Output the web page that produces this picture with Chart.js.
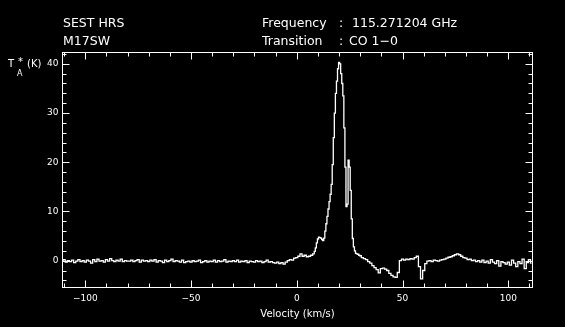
<!DOCTYPE html>
<html>
<head>
<meta charset="utf-8">
<script src="https://cdn.jsdelivr.net/npm/chart.js@4/dist/chart.umd.min.js"></script>
<style>
  html, body { margin: 0; padding: 0; background: #000; }
  #wrap { width: 565px; height: 327px; }
</style>
</head>
<body>
<div id="wrap"><canvas id="spec" width="565" height="327"></canvas></div>
<script>
// header texts
var telescope = 'SEST HRS';
var source = 'M17SW';
var freqLabel = 'Frequency';
var freqValue = '115.271204 GHz';
var transLabel = 'Transition';
var transValue = 'CO 1\u22120';
var xTitle = 'Velocity (km/s)';

// axis ticks
var xTickLabels = [-100, -50, 0, 50, 100];
var xMinorTicks = [-110, -100, -90, -80, -70, -60, -50, -40, -30, -20, -10, 0, 10, 20, 30, 40, 50, 60, 70, 80, 90, 100, 110];
var yTickLabels = [0, 10, 20, 30, 40];
var yMinorTicks = [-4, -2, 0, 2, 4, 6, 8, 10, 12, 14, 16, 18, 20, 22, 24, 26, 28, 30, 32, 34, 36, 38, 40, 42];

// channel velocities (km/s), finer sampling across the line
var velocity = [
  -111, -110, -109, -108, -107, -106, -105, -104, -103, -102, -101,
  -100, -99, -98, -97, -96, -95, -94, -93, -92, -91,
  -90, -89, -88, -87, -86, -85, -84, -83, -82, -81,
  -80, -79, -78, -77, -76, -75, -74, -73, -72, -71,
  -70, -69, -68, -67, -66, -65, -64, -63, -62, -61,
  -60, -59, -58, -57, -56, -55, -54, -53, -52, -51,
  -50, -49, -48, -47, -46, -45, -44, -43, -42, -41,
  -40, -39, -38, -37, -36, -35, -34, -33, -32, -31,
  -30, -29, -28, -27, -26, -25, -24, -23, -22, -21,
  -20, -19, -18, -17, -16, -15, -14, -13, -12, -11,
  -10, -9, -8, -7, -6, -5, -4, -3, -2, -1,
  0, 1, 2, 3, 4, 5, 6, 7,
  8, 8.5, 9, 9.5, 10, 10.5, 11, 11.5, 12, 12.5,
  13, 13.5, 14, 14.5, 15, 15.5, 16, 16.5, 17, 17.5,
  18, 18.5, 19, 19.5, 20, 20.5, 21, 21.5, 22, 22.5,
  23, 23.5, 24, 24.5, 25, 25.5, 26, 26.5, 27, 27.5,
  28, 28.5, 29, 29.5,
  30, 31, 32, 33, 34, 35, 36, 37, 38, 39,
  40, 41, 42, 43, 44, 45, 46, 47, 48, 49,
  50, 51, 52, 53, 54, 55, 56, 57, 58, 59,
  60, 61, 62, 63, 64, 65, 66, 67, 68, 69,
  70, 71, 72, 73, 74, 75, 76, 77, 78, 79,
  80, 81, 82, 83, 84, 85, 86, 87, 88, 89,
  90, 91, 92, 93, 94, 95, 96, 97, 98, 99,
  100, 101, 102, 103, 104, 105, 106, 107, 108, 109,
  110, 111
];

// antenna temperature T*A (K)
var tempK = [
  -0.1, 0.2, -0.3, 0.0, -0.2, 0.1, -0.4, -0.1, 0.2, -0.2, 0.0,
  -0.3, 0.1, -0.1, -0.5, 0.2, -0.2, 0.3, -0.1, 0.0, -0.3,
  0.2, -0.1, 0.4, 0.0, -0.2, 0.1, -0.1, 0.3, -0.2, 0.0,
  -0.1, -0.1, 0.1, -0.2, 0.0, 0.2, -0.3, 0.1, -0.1, 0.0,
  -0.2, 0.1, -0.1, 0.2, -0.3, 0.0, -0.1, -0.4, 0.1, -0.2,
  0.0, 0.3, -0.2, 0.0, -0.1, -0.3, 0.1, -0.4, -0.2, -0.1,
  -0.3, 0.0, -0.2, -0.1, 0.1, -0.4, -0.2, 0.0, -0.3, -0.1,
  -0.2, 0.1, -0.3, 0.0, -0.2, -0.1, 0.2, -0.3, -0.1, -0.2,
  0.0, -0.2, 0.1, -0.3, -0.1, -0.2, 0.0, -0.4, -0.1, -0.2,
  -0.3, 0.0, -0.2, -0.1, -0.4, -0.2, 0.1, -0.3, -0.2, -0.4,
  -0.5, -0.3, -0.6, -0.4, -0.7, -0.3, 0.0, 0.2, 0.1, 0.5,
  0.6, 0.9, 1.4, 0.9, 1.1, 0.8, 0.9, 1.1,
  1.4, 1.9, 2.6, 3.6, 4.4, 4.8, 4.7, 4.6, 4.3, 4.1,
  4.6, 6.0, 7.5, 9.0, 10.5, 12.0, 13.5, 15.5, 19.5, 25.0,
  30.0, 34.0, 36.5, 39.0, 40.3, 40.0, 38.0, 36.0, 33.5, 27.0,
  19.0, 11.0, 11.5, 20.4, 19.0, 14.3, 8.5, 4.5, 2.8, 2.0,
  1.5, 1.4, 1.3, 1.1,
  1.0, 0.6, 0.4, 0.2, -0.2, -0.5, -1.0, -1.4, -1.8, -2.5,
  -1.6, -1.5, -1.7, -2.0, -2.6, -3.0, -3.3, -3.4, -2.4, 0.0,
  0.3, 0.1, 0.3, 0.2, 0.4, 0.3, 0.6, 0.9, -1.2, -3.7,
  -2.0, -0.6, -0.1, 0.0, -0.2, 0.1, 0.0, -0.1, 0.1, 0.2,
  0.3, 0.5, 0.7, 0.8, 1.0, 1.2, 1.4, 1.2, 0.9, 0.6,
  0.5, 0.2, 0.3, 0.0, 0.1, -0.2, 0.0, -0.3, 0.1, -0.4,
  -0.1, -0.5, 0.2, -0.3, -0.6, 0.0, -1.1, -0.2, -0.4, -0.7,
  -0.3, -0.9, 0.1, -0.5, -1.2, -0.2, -0.6, 0.3, -1.6, -0.4,
  0.2, -0.5
];

var points = velocity.map(function(v, i){
  return { x: v, y: tempK[i] };
});

var frameAndText = {
  id: 'frameAndText',
  beforeDraw: function(chart) {
    var ctx = chart.ctx;
    ctx.save();
    ctx.fillStyle = '#000';
    ctx.fillRect(0, 0, chart.width, chart.height);
    ctx.restore();
  },
  afterDraw: function(chart) {
    var ctx = chart.ctx;
    var a = chart.chartArea;
    var xs = chart.scales.x, ys = chart.scales.y;
    var L = Math.round(a.left) + 0.5, R = Math.round(a.right) + 0.5;
    var T = Math.round(a.top) + 0.5, B = Math.round(a.bottom) + 0.5;

    ctx.save();
    ctx.strokeStyle = '#fff';
    ctx.fillStyle = '#fff';
    ctx.lineWidth = 1;
    ctx.strokeRect(L, T, R - L, B - T);

    // x ticks, top and bottom, pointing inwards
    ctx.beginPath();
    xMinorTicks.forEach(function(v){
      var px = Math.round(xs.getPixelForValue(v)) + 0.5;
      var len = (v % 50 === 0) ? 7 : 4;
      ctx.moveTo(px, B); ctx.lineTo(px, B - len);
      ctx.moveTo(px, T); ctx.lineTo(px, T + len);
    });
    // y ticks, left and right
    yMinorTicks.forEach(function(v){
      var py = Math.round(ys.getPixelForValue(v)) + 0.5;
      var len = (v % 10 === 0) ? 7 : 4;
      ctx.moveTo(L, py); ctx.lineTo(L + len, py);
      ctx.moveTo(R, py); ctx.lineTo(R - len, py);
    });
    ctx.stroke();

    // tick labels
    ctx.font = '9px "DejaVu Sans"';
    ctx.textAlign = 'center';
    ctx.textBaseline = 'middle';
    xTickLabels.forEach(function(v){
      var s = v < 0 ? '\u2212' + Math.abs(v) : String(v);
      ctx.fillText(s, xs.getPixelForValue(v), B + 11);
    });
    ctx.textAlign = 'right';
    yTickLabels.forEach(function(v){
      ctx.fillText(String(v), L - 4, ys.getPixelForValue(v));
    });

    // axis titles
    ctx.font = '10px "DejaVu Sans"';
    ctx.textAlign = 'center';
    ctx.fillText(xTitle, (L + R) / 2, 314);

    ctx.textAlign = 'left';
    ctx.textBaseline = 'alphabetic';
    ctx.fillText('T', 8, 67);
    ctx.font = '8px "DejaVu Sans"';
    ctx.fillText('A', 17, 76);
    ctx.font = '10px "DejaVu Sans"';
    ctx.fillText('*', 18, 65);
    ctx.fillText('(K)', 27, 67);

    // header
    ctx.font = '12.5px "DejaVu Sans"';
    ctx.fillText(telescope, 63, 27);
    ctx.fillText(source, 63, 45);
    ctx.fillText(freqLabel, 262, 27);
    ctx.fillText(':', 339, 27);
    ctx.fillText(freqValue, 352, 27);
    ctx.fillText(transLabel, 262, 45);
    ctx.fillText(':', 339, 45);
    ctx.fillText(transValue, 349, 45);
    ctx.restore();
  }
};

new Chart(document.getElementById('spec'), {
  type: 'line',
  data: {
    datasets: [{
      data: points,
      borderColor: '#fff',
      borderWidth: 1.3,
      pointRadius: 0,
      stepped: 'middle',
      fill: false
    }]
  },
  options: {
    responsive: false,
    animation: false,
    layout: { padding: { left: 62, right: 33, top: 52, bottom: 40 } },
    plugins: { legend: { display: false }, tooltip: { enabled: false } },
    scales: {
      x: { type: 'linear', min: -111, max: 111.2, display: false },
      y: { type: 'linear', min: -5.35, max: 42.4, display: false }
    }
  },
  plugins: [frameAndText]
});
</script>
</body>
</html>
